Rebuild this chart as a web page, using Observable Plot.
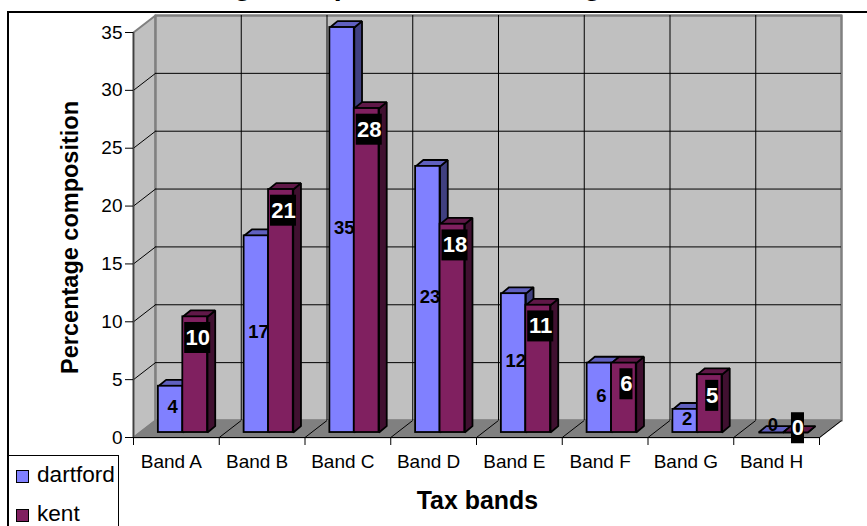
<!DOCTYPE html>
<html>
<head>
<meta charset="utf-8">
<script src="https://cdn.jsdelivr.net/npm/d3@7"></script>
<script src="https://cdn.jsdelivr.net/npm/@observablehq/plot@0.6"></script>
<style>
  html, body { margin: 0; padding: 0; background: #fff; }
  #chart { position: relative; width: 867px; height: 526px; overflow: hidden; font-family: "Liberation Sans", Arial, sans-serif; }
  #chart svg { position: absolute; left: 0; top: 0; display: block; }
  .frame-top { position: absolute; left: 7px; right: 0; top: 11px; height: 2px; background: #000; }
  .frame-left { position: absolute; left: 7px; top: 11px; bottom: 0; width: 2px; background: #000; }
  .legend { position: absolute; left: 8px; top: 455px; width: 112px; height: 71px; border-top: 1px solid #000; border-right: 1px solid #000; box-sizing: border-box; background: #fff; border-left: 2px solid #000; margin-left: -1px; }
  .legend span { position: absolute; left: 28px; font-size: 22.6px; line-height: 22px; color: #000; white-space: nowrap; }
  .legend i { position: absolute; left: 7px; display: block; width: 11px; height: 11px; border: 1.5px solid #000; }
</style>
</head>
<body>
<div id="chart">
  <div class="frame-top"></div>
  <div class="frame-left"></div>
  <div class="legend">
    <i style="top:14px;background:#8080ff"></i><span style="top:8px">dartford</span>
    <i style="top:53px;background:#802060"></i><span style="top:47px">kent</span>
  </div>
</div>
<script>
// Percentage of dwellings in each council tax band
const bands = ["Band A", "Band B", "Band C", "Band D", "Band E", "Band F", "Band G", "Band H"];
const dartford = [4, 17, 35, 23, 12, 6, 2, 0];
const kent = [10, 21, 28, 18, 11, 6, 5, 0];
const yTicks = [0, 5, 10, 15, 20, 25, 30, 35];

// Oblique projection, in axis units: how far the back wall sits from the front plane
const wallX = 0.2566, wallY = 1.47;
// Column depth, and the column plane's lift above the front edge of the floor
const depthX = 0.09, depthY = 0.55, baseY = 0.43;
// Column slots within a band
const startD = 0.29, startK = 0.575, endK = 0.863;

const closed = (z, pts) => pts.map(([x, y]) => ({x, y, z}));

function prism(values, x1, x2) {
  const side = [], top = [], front = [];
  values.forEach((v, i) => {
    const l = i + x1, r = i + x2, t = v + baseY;
    front.push({x1: l, x2: r, y1: baseY, y2: t});
    side.push(...closed(i, [[r, baseY], [r + depthX, baseY + depthY], [r + depthX, t + depthY], [r, t]]));
    top.push(...closed(i, [[l, t], [l + depthX, t + depthY], [r + depthX, t + depthY], [r, t]]));
  });
  return {side, top, front};
}

function columnMarks(p, faceFill, topFill, sideFill) {
  const outline = {stroke: "#000", strokeWidth: 1.8, strokeLinejoin: "miter"};
  return [
    Plot.line(p.side, {x: "x", y: "y", z: "z", curve: "linear-closed", fill: sideFill, ...outline}),
    Plot.line(p.top, {x: "x", y: "y", z: "z", curve: "linear-closed", fill: topFill, ...outline}),
    Plot.rect(p.front, {x1: "x1", x2: "x2", y1: "y1", y2: "y2", fill: faceFill, ...outline})
  ];
}

const pD = prism(dartford, startD, startK);
const pK = prism(kent, startK, endK);
const xIdx = d3.range(bands.length + 1);

const dartfordLabels = dartford.map((v, i) => ({
  x: i + (startD + startK) / 2 + 0.025,
  y: v === 0 ? 1.1 : v / 2 + 0.6,
  text: String(v)
}));
const kentLabels = kent.map((v, i) => {
  const text = String(v);
  const half = text.length > 1 ? 0.152 : 0.076;
  const x = i + (startK + endK) / 2 + 0.03;
  const y = v === 0 ? 0.8 : v - 1.4;
  return {x, y, text, x1: x - half, x2: x + half, y1: y - 1.34, y2: y + 1.34};
});

const plot = Plot.plot({
  width: 867,
  height: 526,
  marginLeft: 133,
  marginRight: 48,
  marginTop: 32,
  marginBottom: 89,
  x: {type: "linear", domain: [0, bands.length]},
  y: {type: "linear", domain: [0, 35]},
  style: {fontFamily: '"Liberation Sans", Arial, sans-serif', background: "transparent", overflow: "hidden"},
  marks: [
    // Left wall, back wall and floor
    Plot.line(closed("left", [[0, 0], [wallX, wallY], [wallX, 35 + wallY], [0, 35]]),
      {x: "x", y: "y", curve: "linear-closed", fill: "#c0c0c0", stroke: "#808080", strokeWidth: 2}),
    Plot.line(closed("back", [[wallX, wallY], [8 + wallX, wallY], [8 + wallX, 35 + wallY], [wallX, 35 + wallY]]),
      {x: "x", y: "y", curve: "linear-closed", fill: "#c0c0c0", stroke: "#808080", strokeWidth: 2.5}),
    Plot.line(closed("floor", [[0, 0], [wallX, wallY], [8 + wallX, wallY], [8, 0]]),
      {x: "x", y: "y", curve: "linear-closed", fill: "#808080", stroke: "#808080"}),

    // Gridlines across the walls and floor
    Plot.ruleY(yTicks.slice(1, -1), {y: (d) => d + wallY, x1: wallX, x2: 8 + wallX, stroke: "#000", strokeWidth: 1}),
    Plot.ruleX(xIdx.slice(1, -1), {x: (d) => d + wallX, y1: wallY, y2: 35 + wallY, stroke: "#000", strokeWidth: 1}),
    Plot.link(yTicks.slice(1, -1), {x1: 0, x2: wallX, y1: (d) => d, y2: (d) => d + wallY, stroke: "#000", strokeWidth: 1}),
    Plot.link(xIdx.slice(1), {x1: (d) => d, x2: (d) => d + wallX, y1: 0, y2: wallY, stroke: "#000", strokeWidth: 1}),

    // Axes
    Plot.ruleX([0], {y1: 0, y2: 35, stroke: "#404040", strokeWidth: 1.5}),
    Plot.ruleY([0], {x1: 0, x2: 8, stroke: "#000", strokeWidth: 1.2}),
    Plot.axisY({ticks: yTicks, tickSize: 8, tickPadding: 3, fontSize: 19, label: null, tickFormat: (d) => d, stroke: "#000", color: "#000"}),
    Plot.axisX({ticks: xIdx, tickSize: 8, tickFormat: () => "", label: null, stroke: "#000"}),

    // Columns, back series first
    ...columnMarks(pD, "#8080ff", "#6060bf", "#404080"),
    ...columnMarks(pK, "#802060", "#601848", "#401030"),

    // Value labels
    Plot.text(dartfordLabels, {x: "x", y: "y", text: "text", fontSize: 18.5, fontWeight: "bold", fill: "#000"}),
    Plot.rect(kentLabels, {x1: "x1", x2: "x2", y1: "y1", y2: "y2", fill: "#000"}),
    Plot.text(kentLabels, {x: "x", y: "y", text: "text", fontSize: 22, fontWeight: "bold", fill: "#fff"}),

    // Band names under the floor
    Plot.text(bands, {x: (d, i) => i + 0.5, y: 0, text: (d) => d, dx: -5, dy: 24, fontSize: 19, fill: "#000"}),

    // Axis titles and the chart title
    Plot.text(["Tax bands"], {x: () => 4.01, y: () => -5.53, fontSize: 24.9, fontWeight: "bold", fill: "#000"}),
    Plot.text(["Percentage composition"], {x: () => -0.735, y: () => 17.29, rotate: -90, fontSize: 23.5, fontWeight: "bold", fill: "#000"}),
    Plot.text(["Percentage composition of dwellings"], {frameAnchor: "top-left", dx: -20, dy: -38, textAnchor: "start", lineAnchor: "bottom", fontSize: 28.5, fontWeight: "bold", fill: "#000"})
  ]
});

document.getElementById("chart").prepend(plot);
</script>
</body>
</html>
